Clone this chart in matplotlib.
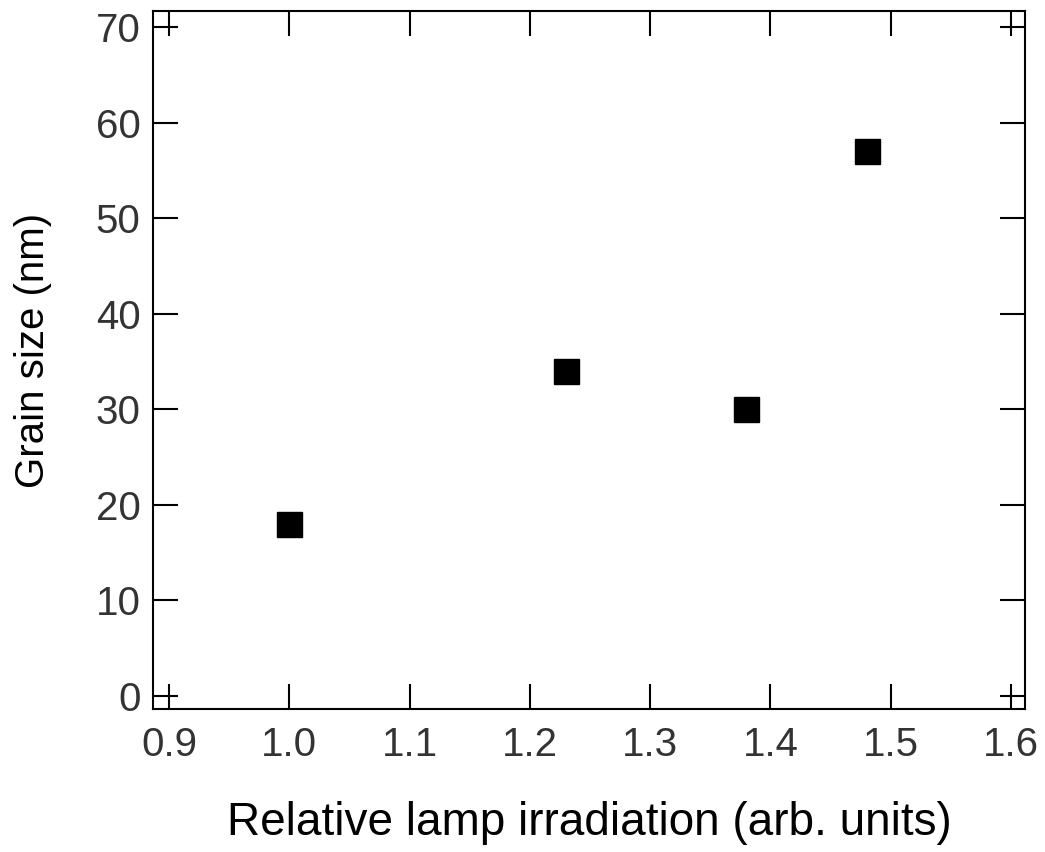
import matplotlib
matplotlib.use("Agg")
import matplotlib.pyplot as plt

plt.rcParams['font.family'] = ['Liberation Sans', 'DejaVu Sans']

# data
irradiation = [1.0, 1.23, 1.38, 1.48]
grain_size = [18, 34, 30, 57]

x_ticks = [0.9, 1.0, 1.1, 1.2, 1.3, 1.4, 1.5, 1.6]
y_ticks = [0, 10, 20, 30, 40, 50, 60, 70]

fig = plt.figure(figsize=(10.45, 8.52), dpi=100)
ax = fig.add_axes([0.1464, 0.1678, 0.8345, 0.8193])

ax.plot(irradiation, grain_size, linestyle="none", marker="s",
        markersize=18, color="black")

ax.set_xlim(0.8867, 1.6117)
ax.set_ylim(-1.36, 71.67)
ax.set_xticks(x_ticks)
ax.set_xticklabels(["%.1f" % v for v in x_ticks])
ax.set_yticks(y_ticks)

ax.tick_params(direction="in", length=18, width=1.5, top=True, right=True,
               labelsize=29, colors="black", labelcolor="#333333")
ax.tick_params(axis="x", pad=12)
ax.tick_params(axis="y", pad=9)
for s in ax.spines.values():
    s.set_linewidth(1.5)

ax.set_xlabel("Relative lamp irradiation (arb. units)", fontsize=33, labelpad=27)
ax.set_ylabel("Grain size (nm)", fontsize=29)
# label sits a little above the axes centre in the original
ax.yaxis.set_label_coords(-0.116, 0.514)

fig.savefig("out.png", dpi=100)
